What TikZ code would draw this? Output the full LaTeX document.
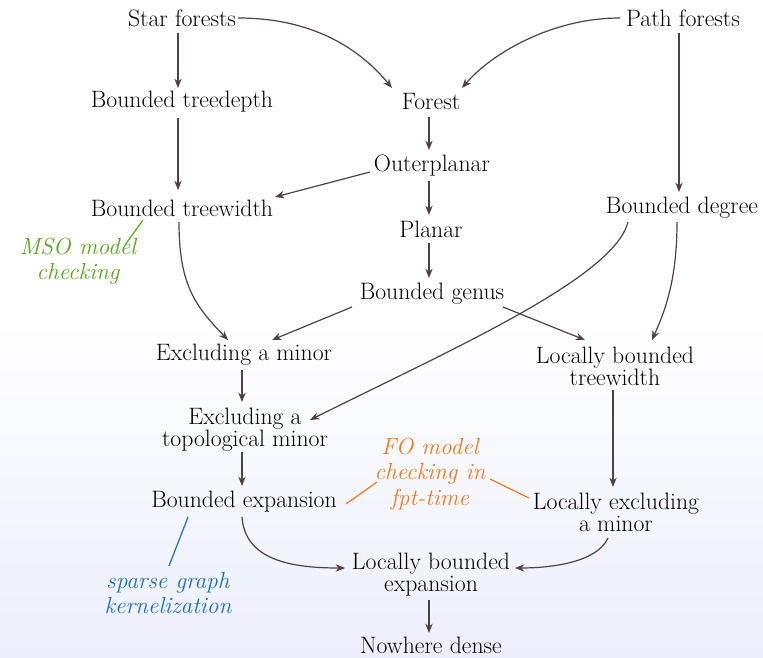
\documentclass[tikz,border=0pt]{standalone}
\usetikzlibrary{calc,arrows.meta}
\definecolor{edgec}{RGB}{77,66,66}
\definecolor{msoc}{RGB}{90,165,30}
\definecolor{foc}{RGB}{240,120,30}
\definecolor{sgc}{RGB}{30,110,175}
\definecolor{bgc}{RGB}{236,239,251}
\begin{document}
\begin{tikzpicture}[x=0.75pt,y=-0.75pt,
  lbl/.style={inner sep=0pt, align=center, font=\fontsize{17.8}{16.6}\selectfont},
  note/.style={inner sep=0pt, align=center, font=\fontsize{17.5}{19}\selectfont\itshape},
  arr/.style={draw=edgec, line width=0.9pt, -{Stealth[length=7pt,width=5.5pt]}},
  lnk/.style={line width=0.9pt}]
% background
\fill[white] (0,0) rectangle (763,320);
\shade[top color=white, bottom color=bgc] (0,320) rectangle (763,657);
\useasboundingbox (0,0) rectangle (763,657);
% nodes
\node[lbl] (sf) at (182,18) {Star forests};
\node[lbl] (pf) at (683,18) {Path forests};
\node[lbl] (btd) at (182,102) {Bounded treedepth};
\node[lbl] (forest) at (431,102) {Forest};
\node[lbl] (outer) at (432,166) {Outerplanar};
\node[lbl] (btw) at (182,208) {Bounded treewidth};
\node[lbl] (planar) at (431,229) {Planar};
\node[lbl] (bdeg) at (682,208) {Bounded degree};
\node[lbl] (bgenus) at (432,294) {Bounded genus};
\node[lbl] (exmin) at (244,355) {Excluding a minor};
\node[lbl] (lbtw) at (615,366) {Locally bounded\\treewidth};
\node[lbl] (extopo) at (245,430) {Excluding a\\topological minor};
\node[lbl] (bexp) at (244,502) {Bounded expansion};
\node[lbl] (lexmin) at (616,512) {Locally excluding\\a minor};
\node[lbl] (lbexp) at (431,575) {Locally bounded\\expansion};
\node[lbl] (nd) at (431,645) {Nowhere dense};
\node[note, text=msoc] (mso) at (78,261) {MSO model\\checking};
\node[note, text=foc] (fo) at (430,474) {FO model\\checking in\\fpt-time};
\node[note, text=sgc] (sgk) at (168,593) {sparse graph\\kernelization};
% edges
\draw[arr] ($(sf)+(-4,15)$) -- ($(btd)+(-4,-14)$);
\draw[arr] ($(sf)+(56,0)$) .. controls ($(sf)+(138,0)$) and ($(forest)+(-66,-47)$) .. ($(forest)+(-39,-14)$);
\draw[arr] ($(pf)+(-63,0)$) .. controls ($(pf)+(-133,0)$) and ($(forest)+(59,-47)$) .. ($(forest)+(31,-14)$);
\draw[arr] ($(pf)+(-4,15)$) -- ($(bdeg)+(-3,-16)$);
\draw[arr] ($(btd)+(-4,16)$) -- ($(btw)+(-4,-18)$);
\draw[arr] ($(forest)+(-2,15)$) -- ($(outer)+(-3,-16)$);
\draw[arr] ($(outer)+(-62,6)$) -- ($(btw)+(93,-11)$);
\draw[arr] ($(outer)+(-3,15)$) -- ($(planar)+(-2,-14)$);
\draw[arr] ($(planar)+(-2,14)$) -- ($(bgenus)+(-3,-16)$);
\draw[arr] ($(btw)+(-3,14)$) .. controls ($(btw)+(-3,75)$) and ($(exmin)+(-50,-50)$) .. ($(exmin)+(-16,-15)$);
\draw[arr] ($(bgenus)+(-80,13)$) -- ($(exmin)+(28,-15)$);
\draw[arr] ($(bgenus)+(71,13)$) -- ($(lbtw)+(-30,-26)$);
\draw[arr] ($(bdeg)+(-5,14)$) .. controls ($(bdeg)+(-5,72)$) and ($(lbtw)+(50,-55)$) .. ($(lbtw)+(37,-26)$);
\draw[arr] ($(bdeg)+(-54,14)$) .. controls ($(bdeg)+(-68,70)$) and ($(extopo)+(205,-80)$) .. ($(extopo)+(65,-10)$);
\draw[arr] ($(exmin)+(-2,15)$) -- ($(extopo)+(-3,-28)$);
\draw[arr] ($(lbtw)+(-2,24)$) -- ($(lexmin)+(-3,-25)$);
\draw[arr] ($(extopo)+(-3,22)$) -- ($(bexp)+(-2,-16)$);
\draw[arr] ($(bexp)+(-2,15)$) .. controls ($(bexp)+(1,58)$) and ($(lbexp)+(-140,-7)$) .. ($(lbexp)+(-86,-7)$);
\draw[arr] ($(lexmin)+(-8,26)$) .. controls ($(lexmin)+(-20,52)$) and ($(lbexp)+(115,-7)$) .. ($(lbexp)+(84,-7)$);
\draw[arr] ($(lbexp)+(-2,25)$) -- ($(nd)+(-2,-12)$);
% annotation links
\draw[lnk, msoc] ($(mso)+(47,-16)$) -- ($(btw)+(-39,12)$);
\draw[lnk, foc] ($(bexp)+(102,2)$) -- ($(fo)+(-53,8)$);
\draw[lnk, foc] ($(fo)+(60,5)$) -- ($(lexmin)+(-87,-14)$);
\draw[lnk, sgc] ($(sgk)+(1,-27)$) -- ($(bexp)+(-56,15)$);
\end{tikzpicture}
\end{document}
